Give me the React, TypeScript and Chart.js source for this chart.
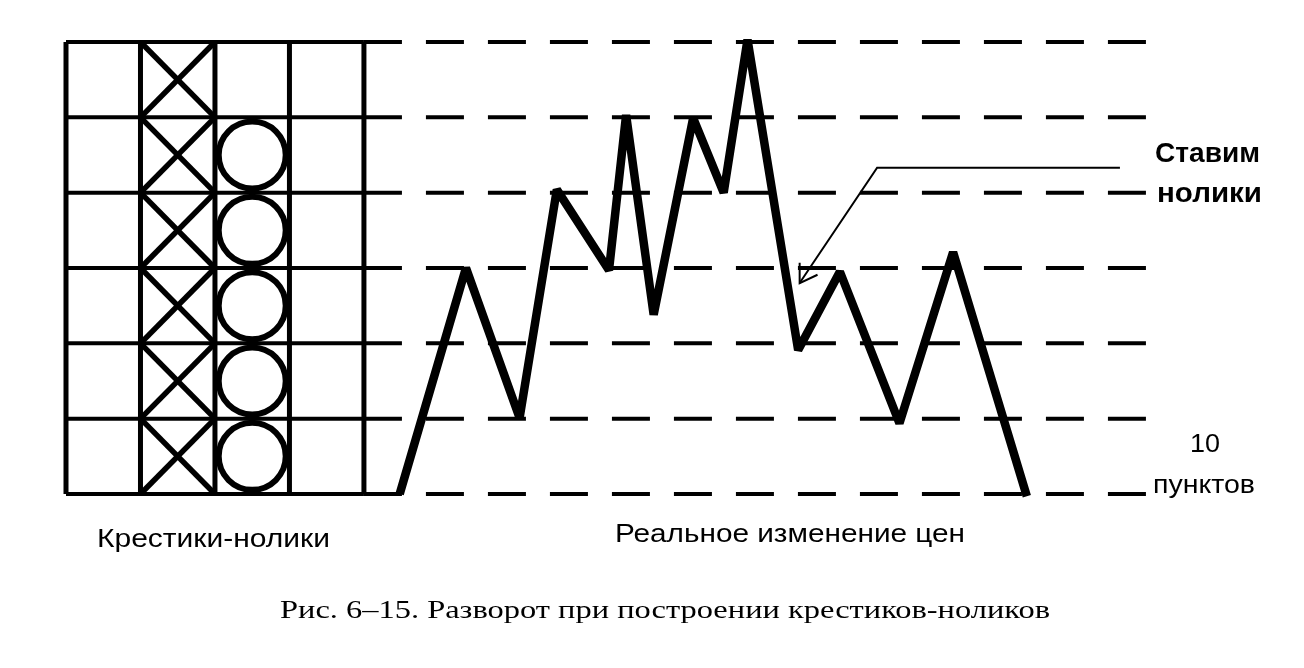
import React, { useEffect, useRef } from "react";
import { Chart, registerables } from "chart.js";

Chart.register(...registerables);

// ---- data ----
const boxSize = 10; // points per box
const gridColumns = [0, 1, 2, 3, 4];
const gridLevels = [0, 10, 20, 30, 40, 50, 60];
const dashedEnd = 14.5;
const xColumn = 1;
const xBoxes = [0, 10, 20, 30, 40, 50];
const oColumn = 2;
const oBoxes = [0, 10, 20, 30, 40];
const priceTime = [4.48, 5.37, 6.09, 6.59, 7.29, 7.52, 7.89, 8.42, 8.83, 9.15, 9.83, 10.39, 11.19, 11.91, 12.9];
const priceValue = [0, 30, 10.1, 40.4, 29.7, 50.3, 23.8, 49.9, 40, 60.3, 19.1, 29.5, 9.4, 32.1, -0.3];
const arrowPath = [
  { x: 14.15, y: 43.3 },
  { x: 10.89, y: 43.3 },
  { x: 9.85, y: 28.0 },
];
const arrowHeadA = [
  { x: 9.85, y: 30.7 },
  { x: 9.85, y: 28.0 },
  { x: 10.09, y: 29.1 },
];
const labelLeft = ["Крестики-нолики"];
const labelRight = ["Реальное изменение цен"];
const noteTop = ["Ставим", "нолики"];
const noteBottom = ["10", "пунктов"];
const caption = "Рис. 6–15. Разворот при построении крестиков-ноликов";

function fitText(ctx: CanvasRenderingContext2D, text: string, left: number, baseline: number, width: number, font: string) {
  ctx.save();
  ctx.font = font;
  ctx.fillStyle = "#000";
  ctx.textAlign = "left";
  ctx.textBaseline = "alphabetic";
  const w = ctx.measureText(text).width;
  ctx.translate(left, baseline);
  ctx.scale(width / w, 1);
  ctx.fillText(text, 0, 0);
  ctx.restore();
}

const textPlugin = {
  id: "texts",
  afterDraw(chart: any) {
    const ctx = chart.ctx as CanvasRenderingContext2D;
    const sans = "'Liberation Sans', Arial, sans-serif";
    fitText(ctx, noteTop[0], 1155, 162, 105, `bold 28px ${sans}`);
    fitText(ctx, noteTop[1], 1157, 202, 105, `bold 28px ${sans}`);
    fitText(ctx, noteBottom[0], 1190, 452, 30, `26px ${sans}`);
    fitText(ctx, noteBottom[1], 1153, 493, 102, `26px ${sans}`);
    fitText(ctx, labelLeft[0], 97, 547, 233, `26px ${sans}`);
    fitText(ctx, labelRight[0], 615, 542, 350, `26px ${sans}`);
    fitText(ctx, caption, 280, 618, 770, `26px 'Liberation Serif', 'Times New Roman', serif`);
  },
};

export default function App() {
  const ref = useRef<HTMLCanvasElement>(null);
  useEffect(() => {
    if (!ref.current) return;
    const datasets: any[] = [];
    const line = (data: any[], width: number, extra: any = {}) => ({
      data,
      showLine: true,
      borderColor: "#000",
      borderWidth: width,
      pointRadius: 0,
      fill: false,
      clip: false,
      tension: 0,
      ...extra,
    });
    const gMin = gridColumns[0];
    const gMax = gridColumns[gridColumns.length - 1];
    for (const lv of gridLevels) {
      datasets.push(line([{ x: gMin, y: lv }, { x: gMax, y: lv }], 4));
      datasets.push(line([{ x: gMax, y: lv }, { x: dashedEnd, y: lv }], 4, { borderDash: [38, 24] }));
    }
    for (const c of gridColumns) {
      datasets.push(line([{ x: c, y: gridLevels[0] }, { x: c, y: gridLevels[gridLevels.length - 1] }], 5));
    }
    // X marks
    for (const b of xBoxes) {
      datasets.push(line([{ x: xColumn, y: b }, { x: xColumn + 1, y: b + boxSize }], 5.5));
      datasets.push(line([{ x: xColumn, y: b + boxSize }, { x: xColumn + 1, y: b }], 5.5));
    }
    // O marks
    datasets.push({
      data: oBoxes.map((b) => ({ x: oColumn + 0.5, y: b + boxSize / 2 })),
      showLine: false,
      pointRadius: 33.5,
      pointBorderWidth: 6,
      pointBorderColor: "#000",
      pointBackgroundColor: "rgba(0,0,0,0)",
      clip: false,
    });
    // price line
    datasets.push(
      line(priceTime.map((t, i) => ({ x: t, y: priceValue[i] })), 8.5, { borderJoinStyle: "bevel" })
    );
    // arrow
    datasets.push(line(arrowPath, 2));
    datasets.push(line(arrowHeadA, 2));

    const chart = new Chart(ref.current, {
      type: "scatter",
      data: { datasets },
      options: {
        animation: false,
        responsive: false,
        events: [],
        layout: { padding: { left: 66, top: 42, right: 158, bottom: 174 } },
        plugins: { legend: { display: false }, tooltip: { enabled: false } },
        scales: {
          x: { type: "linear", min: 0, max: dashedEnd, display: false },
          y: { type: "linear", min: 0, max: 60, display: false },
        },
      },
      plugins: [textPlugin],
    });
    return () => chart.destroy();
  }, []);
  return (
    <div style={{ position: "absolute", left: 0, top: 0, width: 1304, height: 668, background: "#fff" }}>
      <canvas ref={ref} width={1304} height={668} style={{ width: 1304, height: 668 }} />
    </div>
  );
}
